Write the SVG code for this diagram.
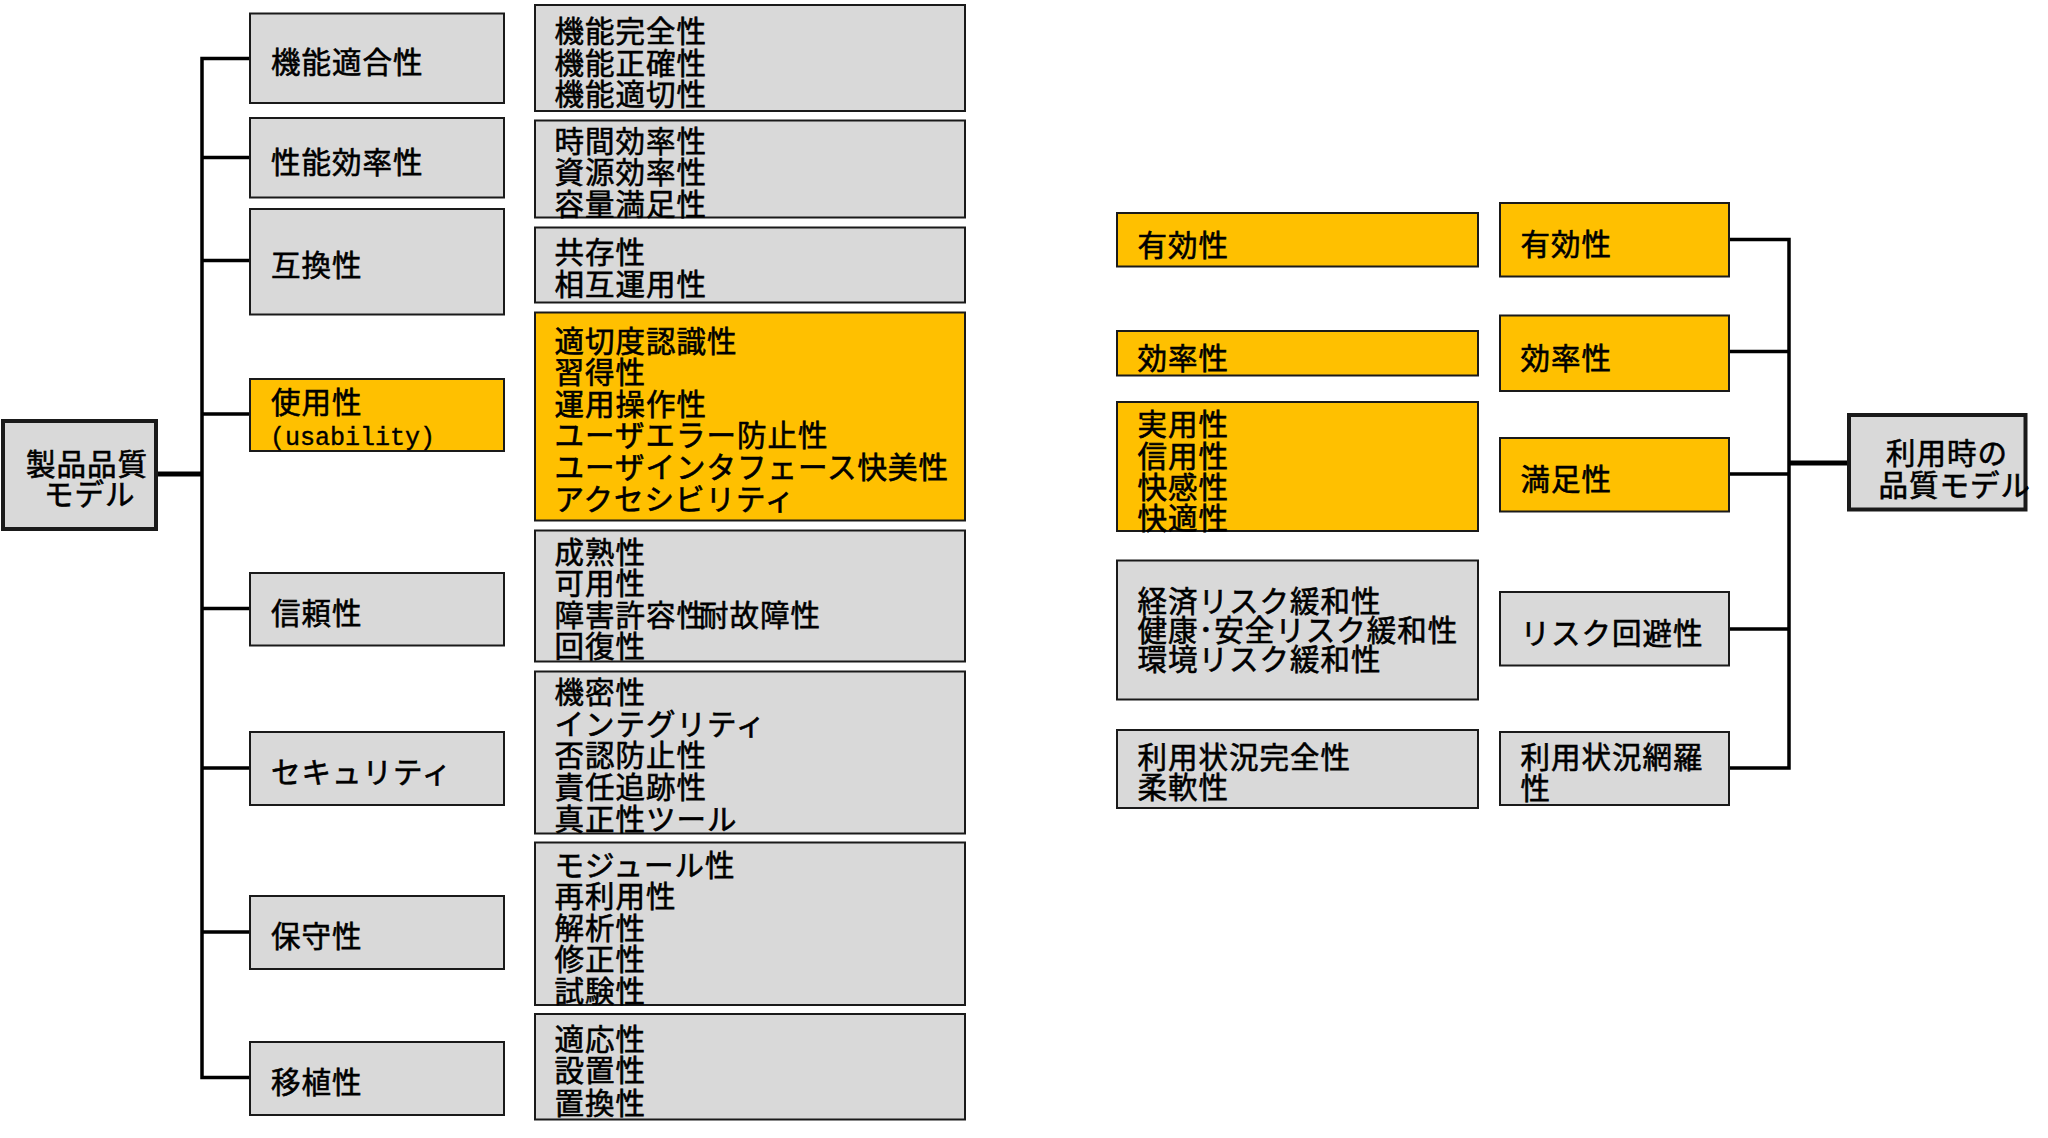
<svg xmlns="http://www.w3.org/2000/svg" width="2048" height="1138" viewBox="0 0 2048 1138">
<style>
.g{fill:#D9D9D9;stroke:#1a1a1a;stroke-width:2}
.y{fill:#FFC000;stroke:#1a1a1a;stroke-width:2}
.root{fill:#D9D9D9;stroke:#1a1a1a;stroke-width:4}
.t{font-family:"Noto Sans CJK JP","Noto Sans CJK SC",sans-serif;font-size:29.5px;letter-spacing:1px;fill:#000;stroke:#000;stroke-width:0.6px}
.m{font-family:"Liberation Mono",monospace;font-size:25px;fill:#000;stroke:#000;stroke-width:0.4px}
.c{fill:none;stroke:#000;stroke-width:3.5}
.cm{fill:none;stroke:#000;stroke-width:5}
</style>
<rect width="2048" height="1138" fill="#fff"/>
<g id="connectors">
<path class="c" d="M250,58.5 H202 V1077.5 H250 M202,157.5 H250 M202,260.5 H250 M202,414 H250 M202,608.5 H250 M202,768 H250 M202,932 H250"/>
<path class="cm" d="M157,474 H202"/>
<path class="c" d="M1729,239.5 H1789 V768 H1729 M1729,351.5 H1789 M1729,474 H1789 M1729,629 H1789"/>
<path class="cm" d="M1789,463 H1849"/>
</g>
<g id="product-quality">
<rect class="root" x="3" y="421" width="153" height="108"/>
<text class="t"><tspan x="26" y="475">製品品質</tspan><tspan x="44" y="505">モデル</tspan></text>
</g>
<g id="cat-functional">
<rect class="g" x="250" y="13.5" width="254" height="89.5"/>
<text class="t" x="271" y="73">機能適合性</text>
</g>
<g id="cat-performance">
<rect class="g" x="250" y="118" width="254" height="79.5"/>
<text class="t" x="271" y="172.5">性能効率性</text>
</g>
<g id="cat-compat">
<rect class="g" x="250" y="209" width="254" height="105.5"/>
<text class="t" x="271" y="276">互換性</text>
</g>
<g id="cat-usability">
<rect class="y" x="250" y="379" width="254" height="72"/>
<text class="t" x="271" y="413">使用性</text>
<text class="m" x="270" y="445" textLength="165" lengthAdjust="spacing">(usability)</text>
</g>
<g id="cat-reliability">
<rect class="g" x="250" y="573" width="254" height="72.5"/>
<text class="t" x="271" y="624">信頼性</text>
</g>
<g id="cat-security">
<rect class="g" x="250" y="732" width="254" height="73"/>
<text class="t" x="271" y="783">セキュリティ</text>
</g>
<g id="cat-maintain">
<rect class="g" x="250" y="896" width="254" height="73"/>
<text class="t" x="271" y="947">保守性</text>
</g>
<g id="cat-portability">
<rect class="g" x="250" y="1042" width="254" height="73"/>
<text class="t" x="271" y="1093">移植性</text>
</g>
<g id="det-functional">
<rect class="g" x="535" y="5" width="430" height="106"/>
<text class="t"><tspan x="554.5" y="42">機能完全性</tspan><tspan x="554.5" y="73.5">機能正確性</tspan><tspan x="554.5" y="105">機能適切性</tspan></text>
</g>
<g id="det-performance">
<rect class="g" x="535" y="120.5" width="430" height="97"/>
<text class="t"><tspan x="554.5" y="152">時間効率性</tspan><tspan x="554.5" y="183">資源効率性</tspan><tspan x="554.5" y="214.5">容量満足性</tspan></text>
</g>
<g id="det-compat">
<rect class="g" x="535" y="227.5" width="430" height="75"/>
<text class="t"><tspan x="554.5" y="263">共存性</tspan><tspan x="554.5" y="294.5">相互運用性</tspan></text>
</g>
<g id="det-usability">
<rect class="y" x="535" y="312.5" width="430" height="208"/>
<text class="t"><tspan x="554.5" y="352">適切度認識性</tspan><tspan x="554.5" y="383">習得性</tspan><tspan x="554.5" y="414.5">運用操作性</tspan><tspan x="554.5" y="446">ユーザエラー防止性</tspan><tspan x="554.5" y="478">ユーザインタフェース快美性</tspan><tspan x="554.5" y="509.5">アクセシビリティ</tspan></text>
</g>
<g id="det-reliability">
<rect class="g" x="535" y="530.5" width="430" height="131"/>
<text class="t"><tspan x="554.5" y="563">成熟性</tspan><tspan x="554.5" y="594">可用性</tspan><tspan x="554.5" y="625.5">障害許容性<tspan dx="-8">耐故障性</tspan></tspan><tspan x="554.5" y="657">回復性</tspan></text>
</g>
<g id="det-security">
<rect class="g" x="535" y="671.5" width="430" height="162"/>
<text class="t"><tspan x="554.5" y="703">機密性</tspan><tspan x="554.5" y="734.5">インテグリティ</tspan><tspan x="554.5" y="766">否認防止性</tspan><tspan x="554.5" y="798">責任追跡性</tspan><tspan x="554.5" y="829.5">真正性ツール</tspan></text>
</g>
<g id="det-maintain">
<rect class="g" x="535" y="842.5" width="430" height="162.5"/>
<text class="t"><tspan x="554.5" y="875.5">モジュール性</tspan><tspan x="554.5" y="907">再利用性</tspan><tspan x="554.5" y="938.5">解析性</tspan><tspan x="554.5" y="970">修正性</tspan><tspan x="554.5" y="1001.5">試験性</tspan></text>
</g>
<g id="det-portability">
<rect class="g" x="535" y="1014" width="430" height="105.5"/>
<text class="t"><tspan x="554.5" y="1049.5">適応性</tspan><tspan x="554.5" y="1081">設置性</tspan><tspan x="554.5" y="1113.5">置換性</tspan></text>
</g>
<g id="use-det-effectiveness">
<rect class="y" x="1117" y="213" width="361" height="53.5"/>
<text class="t" x="1137.5" y="256">有効性</text>
</g>
<g id="use-det-efficiency">
<rect class="y" x="1117" y="331" width="361" height="44.5"/>
<text class="t" x="1137.5" y="369">効率性</text>
</g>
<g id="use-det-satisfaction">
<rect class="y" x="1117" y="402" width="361" height="129"/>
<text class="t"><tspan x="1137.5" y="435">実用性</tspan><tspan x="1137.5" y="466.5">信用性</tspan><tspan x="1137.5" y="498">快感性</tspan><tspan x="1137.5" y="528.5">快適性</tspan></text>
</g>
<g id="use-det-risk">
<rect class="g" x="1117" y="560.5" width="361" height="139"/>
<text class="t"><tspan x="1137.5" y="612">経済リスク緩和性</tspan><tspan x="1137.5" y="641">健康･安全リスク緩和性</tspan><tspan x="1137.5" y="670">環境リスク緩和性</tspan></text>
</g>
<g id="use-det-context">
<rect class="g" x="1117" y="730" width="361" height="78"/>
<text class="t"><tspan x="1137.5" y="767.5">利用状況完全性</tspan><tspan x="1137.5" y="798">柔軟性</tspan></text>
</g>
<g id="use-effectiveness">
<rect class="y" x="1500" y="203" width="229" height="73.5"/>
<text class="t" x="1520.5" y="255">有効性</text>
</g>
<g id="use-efficiency">
<rect class="y" x="1500" y="315.5" width="229" height="75.5"/>
<text class="t" x="1520.5" y="368.5">効率性</text>
</g>
<g id="use-satisfaction">
<rect class="y" x="1500" y="438" width="229" height="73.5"/>
<text class="t" x="1520.5" y="490">満足性</text>
</g>
<g id="use-risk">
<rect class="g" x="1500" y="592" width="229" height="73.5"/>
<text class="t" x="1520.5" y="644">リスク回避性</text>
</g>
<g id="use-context">
<rect class="g" x="1500" y="732" width="229" height="73"/>
<text class="t"><tspan x="1520.5" y="767.5">利用状況網羅</tspan><tspan x="1520.5" y="798.5">性</tspan></text>
</g>
<g id="quality-in-use">
<rect class="root" x="1849" y="415" width="176.5" height="94.5"/>
<text class="t"><tspan x="1886" y="463.5">利用時の</tspan><tspan x="1878.5" y="495.5">品質モデル</tspan></text>
</g>
</svg>
